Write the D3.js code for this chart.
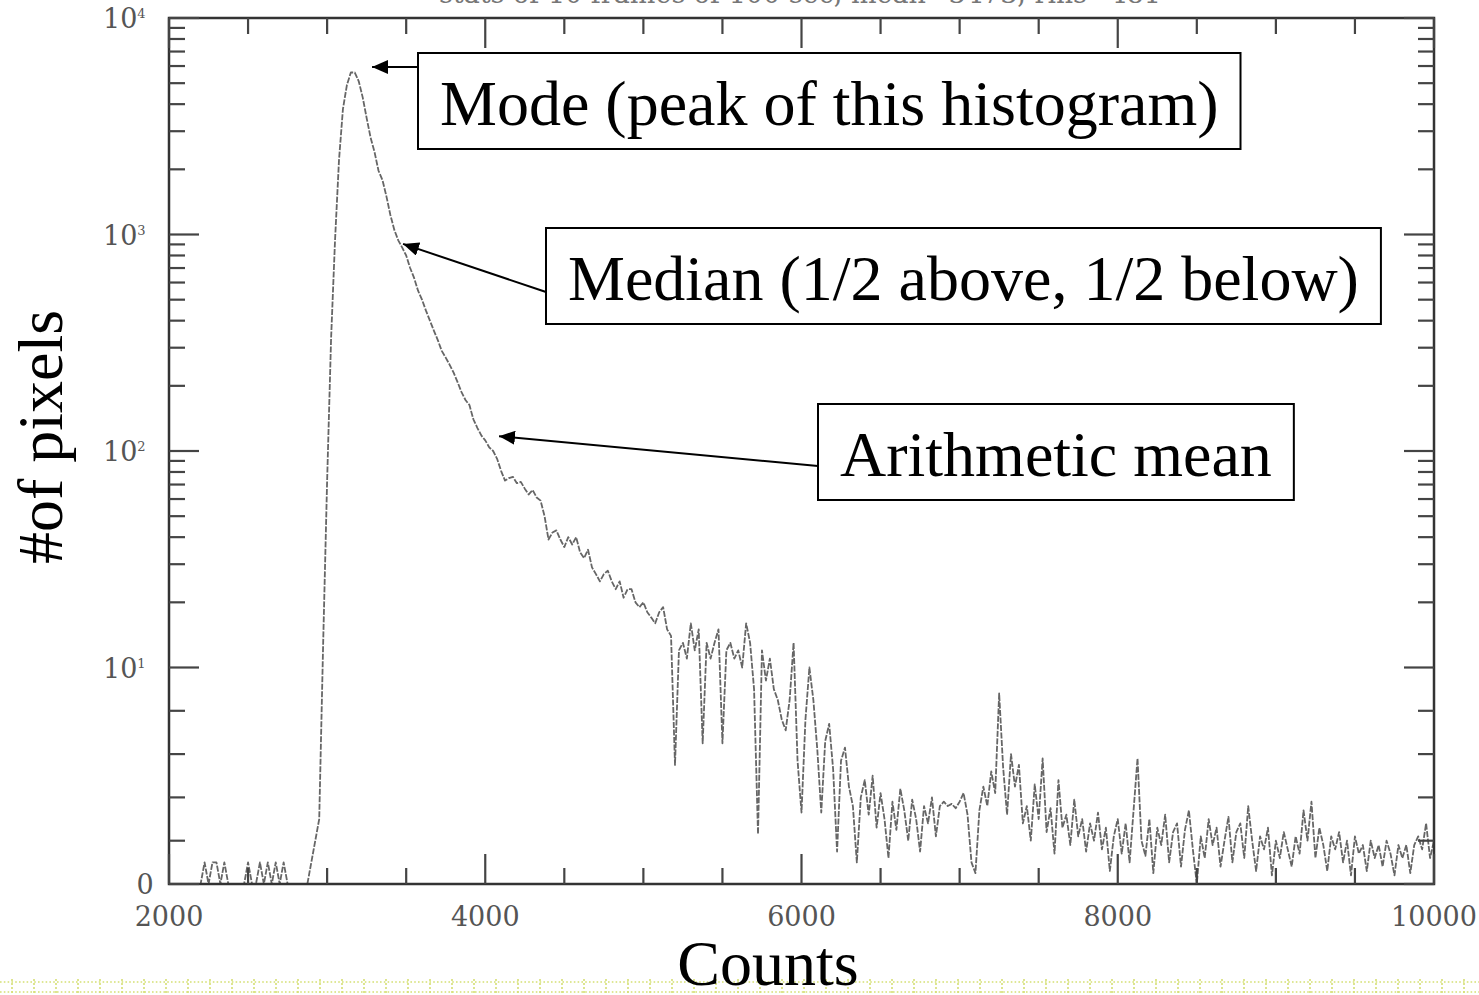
<!doctype html>
<html>
<head>
<meta charset="utf-8">
<style>
  body { margin: 0; background: #fff; }
  .tick-label { font-family: "DejaVu Serif", serif; font-size: 27px; fill: #555; }
  .note { font-family: "Liberation Serif", "Times New Roman", serif; font-size: 64px; fill: #000; }
  .axis-title { font-family: "Liberation Serif", "Times New Roman", serif; font-size: 64px; fill: #000; }
</style>
<script src="https://d3js.org/d3.v7.min.js"></script>
</head>
<body>
<svg width="1479" height="995"></svg>
<script>
// histogram: number of pixels per 25-count bin, starting at 2000 counts
var binStart = 2000, binWidth = 25;
var pixelCounts = [
  0, 0, 0, 0, 0, 0, 0, 0, 0, 1, 0, 1, 1, 0, 1, 0, 0, 0, 0, 0,
  1, 0, 0, 1, 0, 1, 0, 1, 0, 1, 0, 0, 0, 0, 0, 0, 1, 2, 3, 13,
  73, 330, 940, 2200, 3800, 4900, 5600, 5600, 5100, 4300, 3450, 2800, 2400, 1970, 1785, 1500, 1230, 1050, 940, 870,
  800, 700, 630, 550, 500, 445, 400, 360, 325, 290, 270, 250, 230, 208, 187, 172, 163, 140, 128, 118,
  112, 104, 100, 92, 81, 73, 75, 76, 71, 72, 67, 63, 66, 61, 59, 50, 39, 42, 43, 39,
  36, 40, 37, 40, 34, 32, 35, 29, 27, 25, 27, 28, 25, 23, 25, 21, 23, 23, 20, 19,
  20, 18, 17, 16, 18, 19, 15, 14, 5.5, 12, 13, 11, 16, 12, 15, 6.5, 13, 11, 13, 15,
  6.5, 12, 13, 11, 12, 10, 16, 13, 9, 2.3, 12, 9.4, 11, 9, 8.5, 7.6, 7.1, 8.5, 13, 5.7,
  3.3, 7.6, 10, 8.5, 6.2, 3.3, 6.6, 7.4, 5.3, 1.5, 5.7, 6.3, 4.5, 3.6, 1, 4, 4.8, 3.2, 5, 2.6,
  4.2, 3, 1.2, 3.8, 2.5, 4.4, 3.4, 2, 3.9, 3, 1.5, 3.6, 2.8, 4, 2.2, 3.6, 3.8, 3.6, 3.7, 3.5,
  3.8, 4.2, 3.2, 1, 0.5, 3.4, 4.5, 3.6, 5.2, 4.2, 8.8, 5.4, 3.2, 6, 4.5, 5.5, 2.8, 3.6, 2, 4.6,
  3, 5.8, 2.4, 3.5, 1.4, 4.8, 2.6, 3.2, 1.8, 3.9, 2.2, 3, 1.5, 2.8, 2, 3.3, 1.6, 2.6, 0.6, 2.2,
  3, 1.4, 2.8, 1, 3.4, 5.8, 2, 1.3, 3, 0.5, 2.6, 1.8, 3.2, 1, 2.4, 2.8, 0.8, 2.5, 3.4, 1.6,
  0, 2.2, 1.2, 3, 1.8, 2.6, 0.8, 2, 3.1, 1, 2.4, 2.8, 1.2, 3.6, 2, 0.6, 2.2, 1.6, 2.6, 0.4,
  2, 1.2, 2.4, 1.6, 0.8, 2.2, 1.4, 3.4, 2, 3.8, 1.2, 2.6, 1.8, 0.6, 2.2, 1.6, 2.4, 1, 2, 0.4,
  2.2, 1.4, 1.8, 0.6, 2, 1.2, 1.8, 0.8, 2, 1.4, 0.4, 1.8, 1.2, 1.8, 0.5, 1.8, 2.2, 1.6, 2.8, 1.2,
  2
];

var xMajorTicks = [2000, 4000, 6000, 8000, 10000];
var xMinorStep = 500;
var yMajorTicks = [0, 10, 100, 1000, 10000];
var yMajorExponents = ["", "1", "2", "3", "4"];
var yMinorTicks = [2, 4, 6, 8, 20, 30, 40, 50, 60, 70, 80, 90,
  200, 300, 400, 500, 600, 700, 800, 900, 2000, 3000, 4000, 5000, 6000, 7000, 8000, 9000];

var xTitle = "Counts";
var yTitle = "#of pixels";
var topLine = "stats of 10 frames of 100 sec, mean=3473, rms=481";

var noteLabels = ["Mode (peak of this histogram)", "Median (1/2 above, 1/2 below)", "Arithmetic mean"];
var noteTargets = [[3284, 5940], [3480, 905], [4087, 117]];

var svg = d3.select("svg");
var plotLeft = 169, plotRight = 1434, plotTop = 18, plotBottom = 884;

var x = d3.scaleLinear().domain([2000, 10000]).range([plotLeft, plotRight]);
// bottom decade is linear (0..10), above that it is log10
var yT = d3.scaleLinear().domain([0, 4]).range([plotBottom, plotTop]);
function y(v) { return yT(v <= 10 ? v / 10 : Math.log10(v)); }

var data = pixelCounts.map(function(n, i) { return { c: binStart + i * binWidth, n: n }; });

// slide footer dots
var foot = svg.append("g").attr("stroke", "#d5df74").attr("stroke-width", 1.6);
[982, 992].forEach(function(fy) {
  foot.append("line").attr("x1", 0).attr("x2", 1479).attr("y1", fy).attr("y2", fy)
      .attr("stroke-dasharray", "1.6,2.2");
});
foot.selectAll(".fv").data(d3.range(12, 1479, 22)).join("line").attr("class", "fv")
   .attr("x1", function(d) { return d; }).attr("x2", function(d) { return d; })
   .attr("y1", 979).attr("y2", 995).attr("stroke-dasharray", "2,2");

// cropped line at the very top of the slide
svg.append("text")
   .attr("class", "tick-label")
   .attr("x", 800).attr("y", 3)
   .attr("text-anchor", "middle")
   .style("fill", "#777")
   .text(topLine);

// histogram curve
var line = d3.line().x(function(d) { return x(d.c); }).y(function(d) { return y(d.n); });
svg.append("path")
   .datum(data)
   .attr("d", line)
   .attr("fill", "none")
   .attr("stroke", "#666")
   .attr("stroke-width", 1.8)
   .attr("stroke-dasharray", "6,1.5")
   .attr("stroke-linejoin", "round");

// frame
svg.append("rect")
   .attr("x", plotLeft).attr("y", plotTop)
   .attr("width", plotRight - plotLeft).attr("height", plotBottom - plotTop)
   .attr("fill", "none")
   .attr("stroke", "#333")
   .attr("stroke-width", 2.5);

var tickG = svg.append("g").attr("stroke", "#444").attr("stroke-width", 2.2);

var xTicks = d3.range(2000, 10001, xMinorStep).map(function(v) {
  return { v: v, len: xMajorTicks.indexOf(v) >= 0 ? 30 : 16 };
});
tickG.selectAll(".xb").data(xTicks).join("line").attr("class", "xb")
   .attr("x1", function(d) { return x(d.v); }).attr("x2", function(d) { return x(d.v); })
   .attr("y1", plotBottom).attr("y2", function(d) { return plotBottom - d.len; });
tickG.selectAll(".xt").data(xTicks).join("line").attr("class", "xt")
   .attr("x1", function(d) { return x(d.v); }).attr("x2", function(d) { return x(d.v); })
   .attr("y1", plotTop).attr("y2", function(d) { return plotTop + d.len; });

var yTicks = yMajorTicks.map(function(v) { return { v: v, len: 30 }; })
  .concat(yMinorTicks.map(function(v) { return { v: v, len: 16 }; }));
tickG.selectAll(".yl").data(yTicks).join("line").attr("class", "yl")
   .attr("y1", function(d) { return y(d.v); }).attr("y2", function(d) { return y(d.v); })
   .attr("x1", plotLeft).attr("x2", function(d) { return plotLeft + d.len; });
tickG.selectAll(".yr").data(yTicks).join("line").attr("class", "yr")
   .attr("y1", function(d) { return y(d.v); }).attr("y2", function(d) { return y(d.v); })
   .attr("x1", plotRight).attr("x2", function(d) { return plotRight - d.len; });

// x labels
svg.selectAll(".xlab").data(xMajorTicks).join("text")
   .attr("class", "tick-label xlab")
   .attr("x", function(d) { return x(d); })
   .attr("y", 926)
   .attr("text-anchor", "middle")
   .text(function(d) { return d; });

// y labels
yMajorTicks.forEach(function(v, i) {
  var t = svg.append("text").attr("class", "tick-label").attr("y", y(v) + 10);
  if (v === 0) {
    t.attr("x", 145).attr("text-anchor", "middle").text("0");
  } else {
    t.attr("x", 103).text("10");
    t.append("tspan").attr("font-size", 13).attr("dy", -10).text(yMajorExponents[i]);
  }
});

// axis titles
svg.append("text")
   .attr("class", "axis-title")
   .attr("x", 768).attr("y", 985)
   .attr("text-anchor", "middle")
   .text(xTitle);
svg.append("text")
   .attr("class", "axis-title")
   .attr("transform", "translate(62,437) rotate(-90)")
   .attr("text-anchor", "middle")
   .text(yTitle);

// annotations
svg.append("defs").append("marker")
   .attr("id", "head")
   .attr("markerUnits", "userSpaceOnUse")
   .attr("markerWidth", 16).attr("markerHeight", 14)
   .attr("refX", 16).attr("refY", 7)
   .attr("orient", "auto")
   .append("path").attr("d", "M0,0L16,7L0,14Z").attr("fill", "#000");

var boxLayout = [
  { x: 418, y: 53, anchorY: 67 },
  { x: 546, y: 228, anchorY: 292 },
  { x: 818, y: 404, anchorY: 466 }
];
noteLabels.forEach(function(label, i) {
  var b = boxLayout[i];
  var g = svg.append("g");
  var rect = g.append("rect").attr("fill", "#fff").attr("stroke", "#000").attr("stroke-width", 2);
  var txt = g.append("text").attr("class", "note").attr("x", b.x + 22).attr("y", b.y + 72).text(label);
  var w = txt.node().getComputedTextLength();
  rect.attr("x", b.x).attr("y", b.y).attr("width", w + 44).attr("height", 96);
  svg.append("line")
     .attr("x1", b.x).attr("y1", b.anchorY)
     .attr("x2", x(noteTargets[i][0])).attr("y2", y(noteTargets[i][1]))
     .attr("stroke", "#000").attr("stroke-width", 2)
     .attr("marker-end", "url(#head)");
});
</script>
</body>
</html>
